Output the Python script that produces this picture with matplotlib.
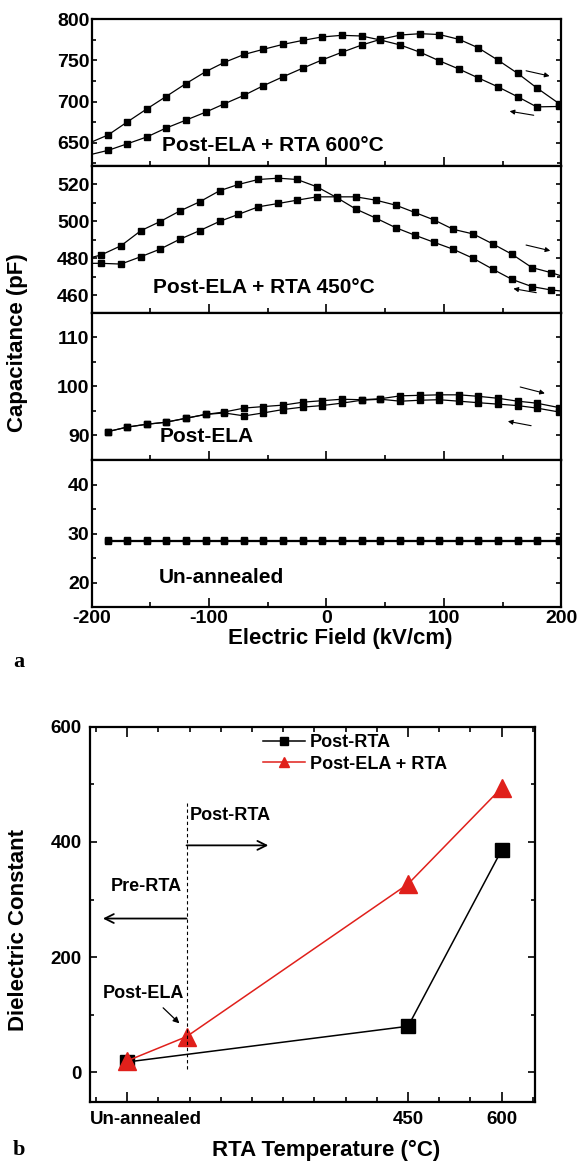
import matplotlib
matplotlib.use('Agg')
import matplotlib.pyplot as plt
from matplotlib.ticker import MultipleLocator
from matplotlib.transforms import ScaledTranslation

plt.rcParams['font.family'] = ['Liberation Sans', 'DejaVu Sans']
plt.rcParams['font.weight'] = 'bold'
plt.rcParams['axes.unicode_minus'] = False

# ---------------- panel a : C-E curves ----------------
# field grid (kV/cm); the first point of the 600C and 450C sweeps sits on the edge (no marker)
field_600 = [-200, -186, -170, -153, -137, -120, -103, -87, -70, -54, -37, -20, -4,
             13, 30, 46, 63, 80, 96, 113, 129, 146, 163, 179, 198]
cap600_a = [650.8, 659.3, 674.8, 691.0, 705.7, 721.5, 736.2, 747.6, 757.3, 763.4, 769.5,
            774.4, 778.5, 780.5, 779.7, 774.8, 768.7, 759.8, 749.6, 739.4, 728.9, 717.9,
            705.7, 693.5, 694.0]
cap600_b = [635.8, 640.6, 648.4, 656.9, 667.5, 677.2, 687.0, 697.2, 707.7, 719.1, 730.1,
            740.7, 750.4, 759.8, 768.7, 775.6, 780.9, 782.5, 781.5, 775.6, 765.5, 750.4,
            734.1, 716.7, 697.6]

field_450 = [-200, -192, -175, -158, -142, -125, -108, -91, -75, -58, -41, -25, -8,
             9, 25, 42, 59, 75, 92, 108, 125, 142, 158, 175, 191, 200]
cap450_a = [480.5, 481.8, 486.8, 495.0, 499.8, 505.6, 510.6, 516.6, 520.0, 522.7, 523.4,
            522.7, 518.7, 512.8, 506.7, 501.8, 496.6, 492.6, 488.6, 484.9, 480.0, 474.0,
            468.6, 464.7, 462.9, 462.3]
cap450_b = [477.3, 477.3, 476.9, 480.9, 484.9, 490.3, 495.0, 500.0, 503.8, 507.9, 509.7,
            511.5, 513.3, 513.3, 513.3, 511.5, 508.8, 504.9, 500.7, 495.7, 493.2, 487.7,
            482.2, 475.0, 472.3, 470.5]

field = [-186, -170, -153, -137, -120, -103, -87, -70, -54, -37, -20, -4,
         13, 30, 46, 63, 80, 96, 113, 129, 146, 163, 179, 198]
capela_up = [90.8, 91.7, 92.3, 92.7, 93.5, 94.3, 94.8, 95.6, 95.9, 96.2, 96.8, 97.1,
             97.4, 97.3, 97.5, 98.1, 98.2, 98.3, 98.3, 98.0, 97.6, 97.0, 96.6, 95.7]
capela_dn = [90.8, 91.7, 92.3, 92.7, 93.5, 94.3, 94.6, 94.0, 94.6, 95.3, 95.8, 96.1,
             96.6, 97.2, 97.4, 97.0, 97.2, 97.3, 97.0, 96.7, 96.4, 96.1, 95.6, 94.8]
capun_up = [28.6, 28.6, 28.6, 28.6, 28.6, 28.6, 28.6, 28.6, 28.6, 28.6, 28.6, 28.6,
            28.6, 28.6, 28.6, 28.6, 28.6, 28.6, 28.6, 28.6, 28.6, 28.6, 28.6, 28.6]
capun_dn = [28.5, 28.5, 28.5, 28.5, 28.5, 28.5, 28.5, 28.5, 28.5, 28.5, 28.5, 28.5,
            28.5, 28.5, 28.5, 28.5, 28.5, 28.5, 28.5, 28.5, 28.5, 28.5, 28.5, 28.5]

# ---------------- panel b : dielectric constant ----------------
temp_rta = [0, 450, 600]
k_rta = [18, 80, 386]
temp_ela = [0, 95, 450, 600]
k_ela = [20, 62, 327, 494]
temp_ticks = [0, 450, 600]
temp_labels = ['Un-annealed', '450', '600']

W, H = 579, 1164
fig = plt.figure(figsize=(W / 100, H / 100), dpi=100)

left, right = 91.6, 561.3
edges = [19.3, 166, 313, 460, 607]
ylims = [(621.6, 800), (450.4, 530), (85, 115), (15, 45)]
ymaj = [50, 20, 10, 10]
axs = []
for i in range(4):
    ax = fig.add_axes([left / W, 1 - edges[i + 1] / H, (right - left) / W,
                       (edges[i + 1] - edges[i]) / H])
    ax.set_xlim(-200, 200)
    ax.set_ylim(*ylims[i])
    ax.xaxis.set_major_locator(MultipleLocator(100))
    ax.xaxis.set_minor_locator(MultipleLocator(50))
    ax.yaxis.set_major_locator(MultipleLocator(ymaj[i]))
    ax.yaxis.set_minor_locator(MultipleLocator(ymaj[i] / 2))
    ax.tick_params(axis='x', which='both', direction='in', top=False, width=1.2)
    ax.tick_params(axis='x', which='major', length=6.5, labelsize=14, pad=2)
    ax.tick_params(axis='x', which='minor', length=3.5)
    ax.tick_params(axis='y', which='both', direction='in', left=True, right=True, width=1.2)
    ax.tick_params(axis='y', which='major', length=3.8, labelsize=14, pad=1.5)
    ax.tick_params(axis='y', which='minor', length=3)
    for s in ax.spines.values():
        s.set_linewidth(1.6)
    if i < 3:
        ax.tick_params(axis='x', labelbottom=False)
    axs.append(ax)

line_kw = dict(color='k', lw=0.9, marker='s', ms=4.2, mec='k', mfc='k')
axs[0].plot(field_600, cap600_a, markevery=slice(1, None), **line_kw)
axs[0].plot(field_600, cap600_b, markevery=slice(1, None), **line_kw)
axs[1].plot(field_450, cap450_a, markevery=slice(1, -1), **line_kw)
axs[1].plot(field_450, cap450_b, markevery=slice(1, -1), **line_kw)
axs[2].plot(field, capela_up, **line_kw)
axs[2].plot(field, capela_dn, **line_kw)
axs[3].plot(field, capun_up, **line_kw)
axs[3].plot(field, capun_dn, **line_kw)

txt_kw = dict(fontsize=15, fontweight='bold', ha='left', va='center')
axs[0].text(-140, 647, 'Post-ELA + RTA 600°C', **txt_kw)
axs[1].text(-148, 464, 'Post-ELA + RTA 450°C', **txt_kw)
axs[2].text(-142, 89.7, 'Post-ELA', **txt_kw)
axs[3].text(-143, 21.1, 'Un-annealed', **txt_kw)

arr = dict(arrowstyle='-|>', color='k', lw=0.8, mutation_scale=7, shrinkA=0, shrinkB=0)
sweep_arrows = [(0, (170, 737.4), (190, 731)), (0, (176.5, 683.3), (156, 688.2)),
                (1, (170, 487.2), (190.6, 484.1)), (1, (178.7, 461.4), (159.2, 463.6)),
                (2, (165, 99.9), (186, 98.6)), (2, (174.3, 92.0), (154.5, 92.9))]
for i, p0, p1 in sweep_arrows:
    axs[i].annotate('', xy=p1, xytext=p0, arrowprops=arr)

fig.text(18 / W, 1 - 343 / H, 'Capacitance (pF)', rotation=90, ha='center', va='center',
         fontsize=16, fontweight='bold')
fig.text(340 / W, 1 - 638 / H, 'Electric Field (kV/cm)', ha='center', va='center',
         fontsize=16, fontweight='bold')
fig.text(19 / W, 1 - 662 / H, 'a', ha='center', va='center', fontsize=16,
         fontweight='bold', family='Liberation Serif')

# ---------------- panel b ----------------
bx = fig.add_axes([89.8 / W, 1 - 1102.3 / H, (535.4 - 89.8) / W, (1102.3 - 726.7) / H])
bx.set_xlim(-60, 654)
bx.set_ylim(-52, 600)
bx.plot(temp_rta, k_rta, color='k', lw=1.1, marker='s', ms=10, label='Post-RTA')
bx.plot(temp_ela, k_ela, color='#e0201b', lw=1.1, marker='^', ms=13, label='Post-ELA + RTA')
bx.set_xticks(temp_ticks)
bx.set_xticklabels(temp_labels)
bx.xaxis.set_minor_locator(MultipleLocator(50))
bx.yaxis.set_major_locator(MultipleLocator(200))
bx.yaxis.set_minor_locator(MultipleLocator(100))
bx.tick_params(which='both', direction='in', top=True, right=True, width=1.2)
bx.tick_params(axis='x', which='major', length=7, labelsize=13.5, pad=6)
bx.tick_params(axis='x', which='minor', length=3.5)
bx.tick_params(axis='y', which='major', length=5, labelsize=13.5, pad=6)
bx.tick_params(axis='y', which='minor', length=3)
for s in bx.spines.values():
    s.set_linewidth(1.6)
lbl = bx.get_xticklabels()[0]
lbl.set_transform(lbl.get_transform() + ScaledTranslation(0.19, 0, fig.dpi_scale_trans))

bx.legend(loc='upper left', bbox_to_anchor=(263 / W, 1 - 734 / H),
          bbox_transform=fig.transFigure, frameon=False, fontsize=13,
          handlelength=2.3, handletextpad=0.3, labelspacing=0.25,
          borderaxespad=0, borderpad=0, markerscale=0.6)

bx.plot([95, 95], [5, 468], color='k', lw=0.8, ls=(0, (3, 2.5)))
bx.text(100, 445, 'Post-RTA', fontsize=13, fontweight='bold', ha='left', va='center')
bx.text(-27, 322, 'Pre-RTA', fontsize=13, fontweight='bold', ha='left', va='center')
bx.text(-40, 136, 'Post-ELA', fontsize=13, fontweight='bold', ha='left', va='center')
big = dict(arrowstyle='->', color='k', lw=1.3, mutation_scale=16, shrinkA=0, shrinkB=0)
bx.annotate('', xy=(226, 394), xytext=(95, 394), arrowprops=big)
bx.annotate('', xy=(-39, 267), xytext=(95, 267), arrowprops=big)
bx.annotate('', xy=(83.6, 85), xytext=(57.5, 112),
            arrowprops=dict(arrowstyle='-|>', color='k', lw=0.9, mutation_scale=9,
                            shrinkA=0, shrinkB=0))

fig.text(19 / W, 1 - 930 / H, 'Dielectric Constant', rotation=90, ha='center', va='center',
         fontsize=16, fontweight='bold')
fig.text(326 / W, 1 - 1150 / H, 'RTA Temperature (°C)', ha='center', va='center',
         fontsize=16, fontweight='bold')
fig.text(18.5 / W, 1 - 1150 / H, 'b', ha='center', va='center', fontsize=16,
         fontweight='bold', family='Liberation Serif')

fig.savefig('out.png', dpi=100)
